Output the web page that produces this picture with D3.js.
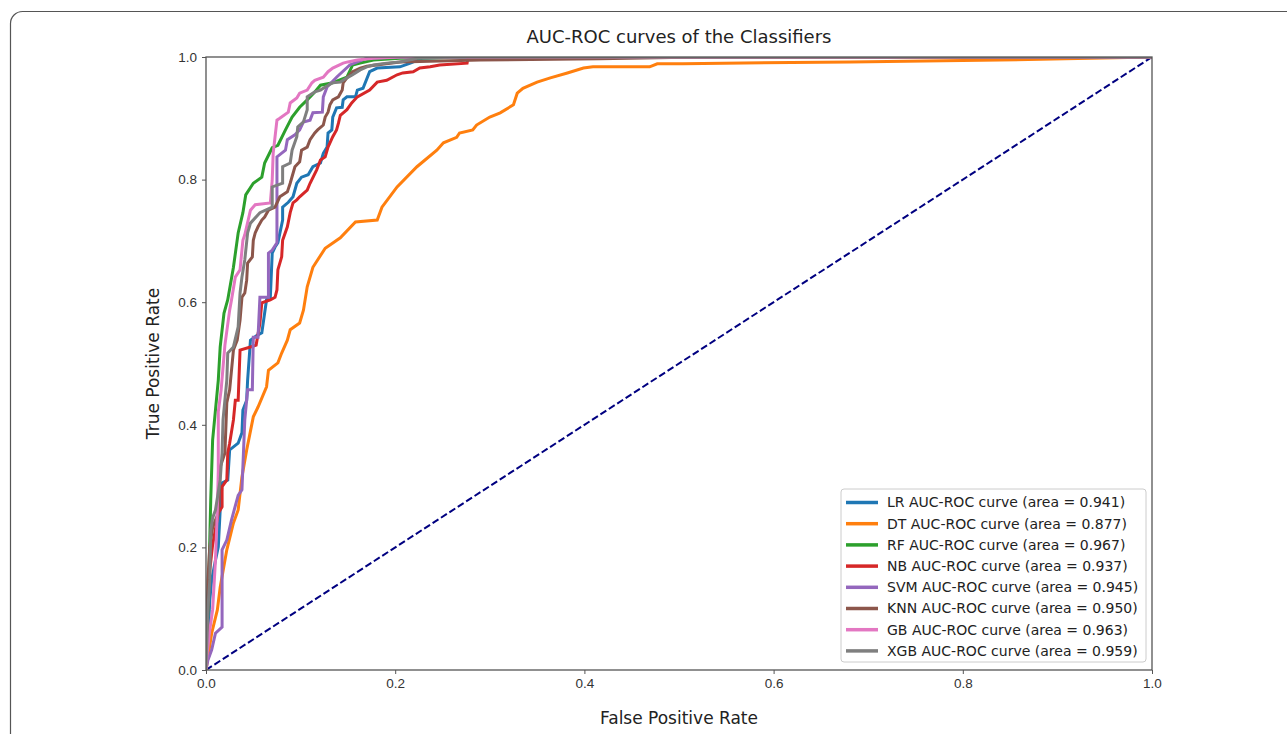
<!DOCTYPE html>
<html>
<head>
<meta charset="utf-8">
<script src="https://cdn.jsdelivr.net/npm/d3@7"></script>
<style>
body { margin: 0; background: #fff; }
svg { font-family: "DejaVu Sans", sans-serif; }
.axis text { font-size: 13.5px; fill: #333; }
.axis line { stroke: #555; }
.axis path { display: none; }
</style>
</head>
<body>
<svg width="1287" height="734"></svg>
<script>
var names = ["LR", "DT", "RF", "NB", "SVM", "KNN", "GB", "XGB"],
    aucs = ["0.941", "0.877", "0.967", "0.937", "0.945", "0.950", "0.963", "0.959"],
    colors = ["#1f77b4", "#ff7f0e", "#2ca02c", "#d62728", "#9467bd", "#8c564b", "#e377c2", "#7f7f7f"],
    ticks = [0, 0.2, 0.4, 0.6, 0.8, 1.0];

// [fpr, tpr]
var lrRoc = [[0,0],[0.002,0.049],[0.004,0.114],[0.006,0.147],[0.010,0.179],[0.013,0.201],[0.015,0.261],[0.017,0.305],[0.023,0.310],[0.025,0.359],[0.034,0.370],[0.038,0.387],[0.039,0.424],[0.043,0.440],[0.044,0.473],[0.047,0.538],[0.054,0.546],[0.059,0.550],[0.064,0.604],[0.068,0.608],[0.070,0.680],[0.073,0.690],[0.076,0.697],[0.081,0.734],[0.081,0.755],[0.087,0.763],[0.092,0.772],[0.096,0.794],[0.101,0.804],[0.108,0.808],[0.113,0.821],[0.121,0.827],[0.124,0.843],[0.128,0.853],[0.129,0.876],[0.133,0.881],[0.134,0.902],[0.138,0.917],[0.144,0.918],[0.145,0.930],[0.149,0.935],[0.158,0.935],[0.160,0.946],[0.166,0.949],[0.173,0.976],[0.181,0.982],[0.205,0.984],[0.216,0.990],[0.229,0.998],[0.268,1],[1,1]];
var dtRoc = [[0,0],[0.006,0.060],[0.012,0.098],[0.015,0.135],[0.022,0.196],[0.029,0.240],[0.034,0.261],[0.038,0.315],[0.043,0.359],[0.050,0.413],[0.055,0.429],[0.064,0.462],[0.066,0.489],[0.076,0.501],[0.080,0.517],[0.086,0.538],[0.089,0.555],[0.099,0.566],[0.103,0.587],[0.107,0.625],[0.113,0.657],[0.126,0.688],[0.142,0.705],[0.158,0.731],[0.181,0.734],[0.186,0.755],[0.202,0.788],[0.223,0.821],[0.244,0.848],[0.251,0.860],[0.265,0.869],[0.268,0.876],[0.282,0.881],[0.286,0.889],[0.300,0.902],[0.311,0.909],[0.325,0.922],[0.329,0.941],[0.335,0.949],[0.350,0.959],[0.364,0.966],[0.382,0.974],[0.399,0.982],[0.409,0.984],[0.469,0.984],[0.477,0.989],[0.504,0.989],[0.681,0.992],[0.839,0.995],[1,1]];
var rfRoc = [[0,0],[0.001,0.049],[0.003,0.147],[0.005,0.277],[0.007,0.375],[0.010,0.424],[0.013,0.473],[0.015,0.527],[0.019,0.582],[0.023,0.604],[0.029,0.657],[0.034,0.713],[0.039,0.746],[0.042,0.775],[0.050,0.794],[0.059,0.804],[0.062,0.827],[0.070,0.852],[0.076,0.856],[0.084,0.881],[0.091,0.902],[0.099,0.918],[0.107,0.930],[0.115,0.943],[0.121,0.954],[0.134,0.958],[0.149,0.967],[0.155,0.987],[0.163,0.990],[0.177,0.995],[0.205,0.998],[0.311,1],[1,1]];
var nbRoc = [[0,0],[0.001,0.049],[0.002,0.114],[0.004,0.163],[0.007,0.204],[0.013,0.256],[0.017,0.266],[0.017,0.299],[0.022,0.310],[0.023,0.354],[0.025,0.370],[0.029,0.408],[0.031,0.440],[0.034,0.440],[0.036,0.522],[0.047,0.527],[0.053,0.530],[0.057,0.566],[0.059,0.599],[0.068,0.604],[0.073,0.608],[0.075,0.620],[0.076,0.653],[0.080,0.674],[0.081,0.701],[0.086,0.723],[0.089,0.746],[0.092,0.762],[0.096,0.767],[0.099,0.772],[0.107,0.783],[0.110,0.794],[0.117,0.816],[0.121,0.832],[0.126,0.837],[0.129,0.853],[0.134,0.870],[0.138,0.881],[0.140,0.892],[0.142,0.905],[0.149,0.914],[0.154,0.925],[0.160,0.935],[0.173,0.946],[0.181,0.959],[0.191,0.962],[0.202,0.971],[0.208,0.974],[0.219,0.976],[0.226,0.982],[0.237,0.984],[0.247,0.987],[0.276,0.990],[0.277,1],[1,1]];
var svmRoc = [[0,0],[0.002,0.016],[0.006,0.033],[0.010,0.060],[0.017,0.070],[0.017,0.196],[0.022,0.212],[0.027,0.245],[0.034,0.285],[0.038,0.294],[0.041,0.408],[0.044,0.457],[0.049,0.457],[0.050,0.543],[0.055,0.543],[0.057,0.608],[0.066,0.608],[0.066,0.680],[0.070,0.685],[0.075,0.697],[0.075,0.837],[0.084,0.848],[0.086,0.865],[0.094,0.873],[0.099,0.881],[0.103,0.894],[0.110,0.897],[0.113,0.909],[0.123,0.910],[0.124,0.935],[0.128,0.951],[0.138,0.967],[0.152,0.987],[0.170,0.998],[0.205,1],[1,1]];
var knnRoc = [[0,0],[0.001,0.082],[0.002,0.147],[0.004,0.201],[0.007,0.233],[0.013,0.256],[0.015,0.331],[0.020,0.354],[0.022,0.436],[0.025,0.457],[0.029,0.522],[0.033,0.538],[0.036,0.571],[0.038,0.608],[0.041,0.615],[0.043,0.636],[0.044,0.664],[0.049,0.674],[0.050,0.701],[0.052,0.713],[0.055,0.723],[0.059,0.734],[0.062,0.739],[0.066,0.750],[0.073,0.755],[0.078,0.772],[0.086,0.780],[0.089,0.794],[0.094,0.821],[0.099,0.829],[0.101,0.848],[0.107,0.853],[0.110,0.865],[0.115,0.876],[0.118,0.881],[0.124,0.889],[0.126,0.902],[0.129,0.910],[0.131,0.922],[0.134,0.930],[0.140,0.935],[0.144,0.946],[0.145,0.958],[0.149,0.966],[0.155,0.976],[0.163,0.982],[0.170,0.985],[0.205,0.992],[0.290,0.995],[0.416,0.997],[0.522,1],[1,1]];
var gbRoc = [[0,0],[0.001,0.024],[0.004,0.065],[0.007,0.098],[0.010,0.179],[0.012,0.261],[0.013,0.326],[0.013,0.421],[0.016,0.457],[0.020,0.530],[0.025,0.587],[0.027,0.604],[0.031,0.641],[0.036,0.653],[0.039,0.701],[0.041,0.710],[0.047,0.750],[0.052,0.759],[0.068,0.762],[0.070,0.799],[0.071,0.843],[0.075,0.897],[0.078,0.900],[0.087,0.910],[0.089,0.925],[0.096,0.933],[0.099,0.941],[0.107,0.946],[0.112,0.958],[0.115,0.962],[0.124,0.967],[0.129,0.976],[0.134,0.982],[0.145,0.990],[0.150,0.992],[0.160,0.995],[0.177,0.998],[0.205,1],[1,1]];
var xgbRoc = [[0,0],[0.001,0.049],[0.002,0.098],[0.004,0.147],[0.005,0.228],[0.007,0.248],[0.010,0.261],[0.015,0.310],[0.017,0.354],[0.018,0.408],[0.022,0.473],[0.023,0.517],[0.029,0.527],[0.034,0.560],[0.036,0.615],[0.038,0.641],[0.041,0.669],[0.044,0.713],[0.047,0.729],[0.057,0.746],[0.070,0.755],[0.070,0.788],[0.081,0.794],[0.081,0.821],[0.089,0.827],[0.091,0.848],[0.096,0.870],[0.097,0.886],[0.103,0.894],[0.107,0.914],[0.107,0.935],[0.115,0.943],[0.121,0.946],[0.126,0.951],[0.134,0.958],[0.142,0.959],[0.149,0.966],[0.155,0.971],[0.163,0.979],[0.170,0.984],[0.177,0.987],[0.191,0.990],[0.205,0.992],[0.223,0.998],[0.258,1],[1,1]];

var curves = [lrRoc, dtRoc, rfRoc, nbRoc, svmRoc, knnRoc, gbRoc, xgbRoc];

var svg = d3.select("svg"),
    margin = {top: 57, right: 135, bottom: 64, left: 206},
    width = +svg.attr("width") - margin.left - margin.right,
    height = +svg.attr("height") - margin.top - margin.bottom,
    g = svg.append("g").attr("transform", "translate(" + margin.left + "," + margin.top + ")");

// outer card frame, runs off the right and bottom edges
svg.append("rect")
    .attr("x", 10.5)
    .attr("y", 11.5)
    .attr("width", 1400)
    .attr("height", 900)
    .attr("rx", 12)
    .attr("fill", "none")
    .attr("stroke", "#555")
    .attr("stroke-width", 1.2);

var x = d3.scaleLinear()
    .domain([0, 1])
    .range([0, width]);
var y = d3.scaleLinear()
    .domain([0, 1])
    .range([height, 0]);

var line = d3.line()
    .x(function(d) { return x(d[0]); })
    .y(function(d) { return y(d[1]); });

g.append("defs").append("clipPath")
    .attr("id", "clip")
  .append("rect")
    .attr("width", width)
    .attr("height", height);

g.append("g")
    .attr("class", "axis axis--x")
    .attr("transform", "translate(0," + height + ")")
    .call(d3.axisBottom(x).tickValues(ticks).tickFormat(d3.format(".1f")).tickSize(4).tickPadding(4));
g.append("g")
    .attr("class", "axis axis--y")
    .call(d3.axisLeft(y).tickValues(ticks).tickFormat(d3.format(".1f")).tickSize(4).tickPadding(5));

var plot = g.append("g").attr("clip-path", "url(#clip)");

plot.append("path")
    .datum([[0, 0], [1, 1]])
    .attr("d", line)
    .attr("fill", "none")
    .attr("stroke", "navy")
    .attr("stroke-width", 2)
    .attr("stroke-dasharray", "7,3");

plot.selectAll(".roc")
    .data(curves)
  .enter().append("path")
    .attr("class", "roc")
    .attr("d", line)
    .attr("fill", "none")
    .attr("stroke", function(d, i) { return colors[i]; })
    .attr("stroke-width", 3)
    .attr("stroke-linejoin", "miter");

// axes box
g.append("rect")
    .attr("width", width)
    .attr("height", height)
    .attr("fill", "none")
    .attr("stroke", "#555")
    .attr("stroke-width", 1.3);

svg.append("text")
    .attr("x", margin.left + width / 2)
    .attr("y", 43)
    .attr("text-anchor", "middle")
    .attr("font-size", 18)
    .attr("fill", "#222")
    .text("AUC-ROC curves of the Classifiers");

svg.append("text")
    .attr("x", margin.left + width / 2)
    .attr("y", 724)
    .attr("text-anchor", "middle")
    .attr("font-size", 17)
    .attr("fill", "#222")
    .text("False Positive Rate");

svg.append("text")
    .attr("transform", "translate(159," + (margin.top + height / 2) + ") rotate(-90)")
    .attr("text-anchor", "middle")
    .attr("font-size", 17)
    .attr("fill", "#222")
    .text("True Positive Rate");

var legend = svg.append("g").attr("transform", "translate(841,489)");
legend.append("rect")
    .attr("width", 305)
    .attr("height", 173)
    .attr("rx", 3)
    .attr("fill", "#fff")
    .attr("fill-opacity", 0.85)
    .attr("stroke", "#ccc");

var item = legend.selectAll(".item")
    .data(names)
  .enter().append("g")
    .attr("class", "item")
    .attr("transform", function(d, i) { return "translate(0," + (13.5 + i * 21.2) + ")"; });
item.append("line")
    .attr("x1", 5)
    .attr("x2", 37)
    .attr("stroke", function(d, i) { return colors[i]; })
    .attr("stroke-width", 3.5);
item.append("text")
    .attr("x", 46)
    .attr("dy", "0.35em")
    .attr("font-size", 14)
    .attr("fill", "#222")
    .text(function(d, i) { return d + " AUC-ROC curve (area = " + aucs[i] + ")"; });
</script>
</body>
</html>
